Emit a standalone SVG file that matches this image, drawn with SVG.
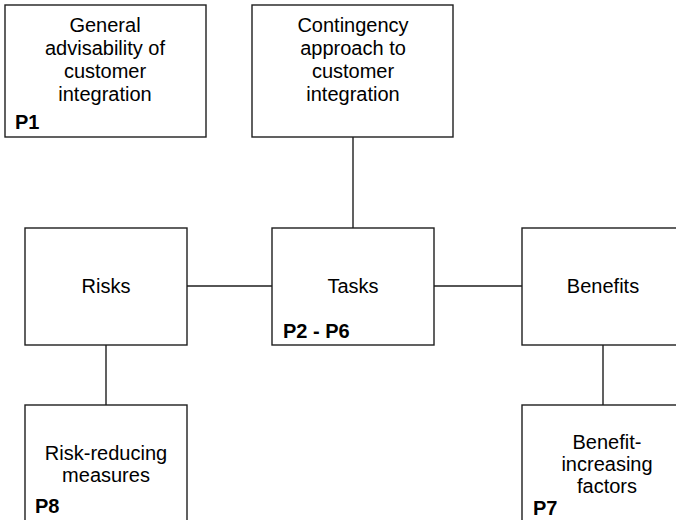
<svg xmlns="http://www.w3.org/2000/svg" width="676" height="520" viewBox="0 0 676 520">
  <style>
    .box { fill: #ffffff; stroke: #1e1e1e; stroke-width: 1.4; }
    .link { stroke: #1e1e1e; stroke-width: 1.4; fill: none; }
    .t { font-family: "Liberation Sans", Arial, sans-serif; font-size: 20px; fill: #000; text-anchor: middle; }
    .p { font-family: "Liberation Sans", Arial, sans-serif; font-size: 20px; font-weight: bold; fill: #000; }
  </style>
  <rect width="676" height="520" fill="#ffffff"/>

  <!-- connectors -->
  <g id="connectors">
    <line class="link" x1="353" y1="137" x2="353" y2="228"/>
    <line class="link" x1="187" y1="286" x2="272" y2="286"/>
    <line class="link" x1="434" y1="286" x2="522" y2="286"/>
    <line class="link" x1="106" y1="345" x2="106" y2="405"/>
    <line class="link" x1="603" y1="345" x2="603" y2="405"/>
  </g>

  <g id="general">
    <rect class="box" x="5" y="5" width="201" height="132"/>
    <text class="t" x="105" y="32">General</text>
    <text class="t" x="105" y="55">advisability of</text>
    <text class="t" x="105" y="78">customer</text>
    <text class="t" x="105" y="101">integration</text>
    <text class="p" x="15" y="129">P1</text>
  </g>

  <g id="contingency">
    <rect class="box" x="252" y="5" width="201" height="132"/>
    <text class="t" x="353" y="32">Contingency</text>
    <text class="t" x="353" y="55">approach to</text>
    <text class="t" x="353" y="78">customer</text>
    <text class="t" x="353" y="101">integration</text>
  </g>

  <g id="risks">
    <rect class="box" x="25" y="228" width="162" height="117"/>
    <text class="t" x="106" y="293">Risks</text>
  </g>

  <g id="tasks">
    <rect class="box" x="272" y="228" width="162" height="117"/>
    <text class="t" x="353" y="293">Tasks</text>
    <text class="p" x="283" y="338">P2 - P6</text>
  </g>

  <g id="benefits">
    <rect class="box" x="522" y="228" width="170" height="117"/>
    <text class="t" x="603" y="293">Benefits</text>
  </g>

  <g id="risk-reducing">
    <rect class="box" x="25" y="405" width="162" height="130"/>
    <text class="t" x="106" y="460">Risk-reducing</text>
    <text class="t" x="106" y="482">measures</text>
    <text class="p" x="35" y="513">P8</text>
  </g>

  <g id="benefit-increasing">
    <rect class="box" x="522" y="405" width="170" height="130"/>
    <text class="t" x="607" y="449">Benefit-</text>
    <text class="t" x="607" y="471">increasing</text>
    <text class="t" x="607" y="493">factors</text>
    <text class="p" x="533" y="515">P7</text>
  </g>
</svg>
